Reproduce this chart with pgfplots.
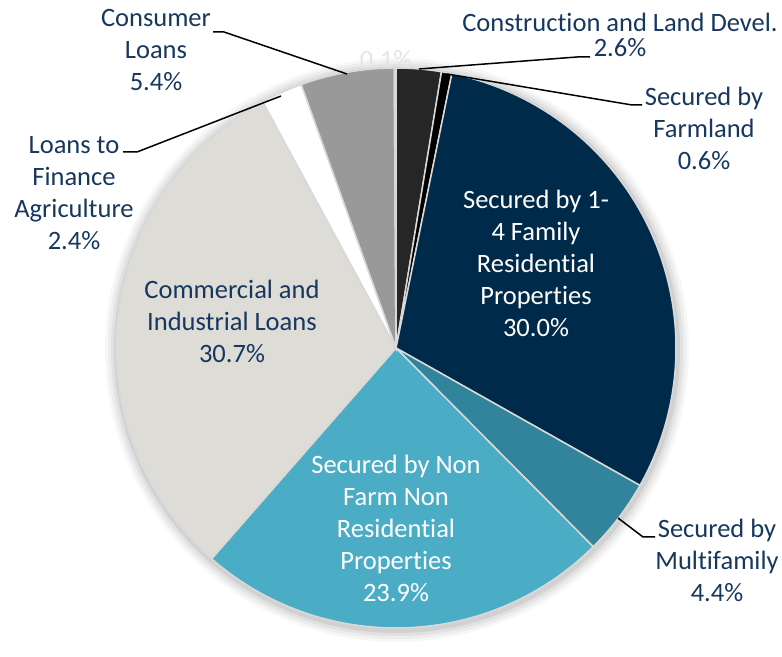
\documentclass[border=0pt]{standalone}
\usepackage{pgfplots}
\pgfplotsset{compat=1.18}
\usepackage{fontspec}
\setmainfont{Carlito}[Ligatures=NoCommon]

\definecolor{txt}{RGB}{23,55,94}
\definecolor{edge}{RGB}{217,217,217}
\definecolor{cConstr}{RGB}{38,38,38}
\definecolor{cFarm}{RGB}{0,0,0}
\definecolor{cFamily}{RGB}{0,42,74}
\definecolor{cMulti}{RGB}{49,132,155}
\definecolor{cNonFarm}{RGB}{75,172,198}
\definecolor{cCommerc}{RGB}{221,220,215}
\definecolor{cAgri}{RGB}{255,255,255}
\definecolor{cConsumer}{RGB}{153,153,153}
\definecolor{cOther}{RGB}{217,217,217}

\tikzset{lbl/.style={font=\fontsize{13.25}{16}\selectfont, align=center, text=txt, inner sep=0pt}}

% degrees per percent (shares add up to 100.1)
\def\degpp{3.5964}
% \slice{cumulative share before}{share}{colour}
\newcommand{\slice}[3]{%
  \fill[#3, draw=edge, line width=0.75pt] (axis cs:396,282)
    -- ++({90-\degpp*(#1)}:140pt)
    arc[start angle={90-\degpp*(#1)}, end angle={90-\degpp*(#1+#2)}, radius=140pt]
    -- cycle;}
\newcommand{\halo}[2]{\fill[black, opacity=#2] (axis cs:397,280) circle[radius=#1pt];}

\begin{document}
\begin{tikzpicture}
\begin{axis}[
    x=0.5pt, y=0.5pt, scale only axis,
    xmin=0, xmax=782, ymin=0, ymax=630,
    hide axis, clip=false,
]
\path (axis cs:0,0) rectangle (axis cs:782,630);

% soft shadow
\halo{146}{0.03}
\halo{144.5}{0.04}
\halo{143}{0.05}
\halo{141.5}{0.07}

\node[lbl, text=white!80!gray] at (axis cs:386,570.5) {0.1\%};

\slice{0}{2.6}{cConstr}
\slice{2.6}{0.6}{cFarm}
\slice{3.2}{30.0}{cFamily}
\slice{33.2}{4.4}{cMulti}
\slice{37.6}{23.9}{cNonFarm}
\slice{61.5}{30.7}{cCommerc}
\slice{92.2}{2.4}{cAgri}
\slice{94.6}{5.4}{cConsumer}
\slice{100.0}{0.1}{cOther}

% leader lines
\draw[black, line width=0.75pt] (axis cs:213,598) -- (axis cs:224,598) -- (axis cs:347,556);
\draw[black, line width=0.75pt] (axis cs:123,478) -- (axis cs:137,478) -- (axis cs:281,534);
\draw[black, line width=0.75pt] (axis cs:590,573) -- (axis cs:577,573) -- (axis cs:419,561);
\draw[black, line width=0.75pt] (axis cs:642,525) -- (axis cs:632,525) -- (axis cs:447,556);
\draw[black, line width=0.75pt] (axis cs:655,93) -- (axis cs:643,93) -- (axis cs:618,112);

% labels
\node[lbl] at (axis cs:156,579.5) {Consumer\\Loans\\5.4\%};
\node[lbl] at (axis cs:74,437) {Loans to\\Finance\\Agriculture\\2.4\%};
\node[lbl, font=\fontsize{13.25}{12.5}\selectfont] at (axis cs:620,595) {Construction and Land Devel.\\2.6\%};
\node[lbl] at (axis cs:704,502) {Secured by\\Farmland\\0.6\%};
\node[lbl] at (axis cs:717,70) {Secured by\\Multifamily\\4.4\%};
\node[lbl, text=white] at (axis cs:536,367) {Secured by 1-\\4 Family\\Residential\\Properties\\30.0\%};
\node[lbl, text=white] at (axis cs:396,102) {Secured by Non\\Farm Non\\Residential\\Properties\\23.9\%};
\node[lbl] at (axis cs:232,309) {Commercial and\\Industrial Loans\\30.7\%};
\end{axis}
\end{tikzpicture}
\end{document}
